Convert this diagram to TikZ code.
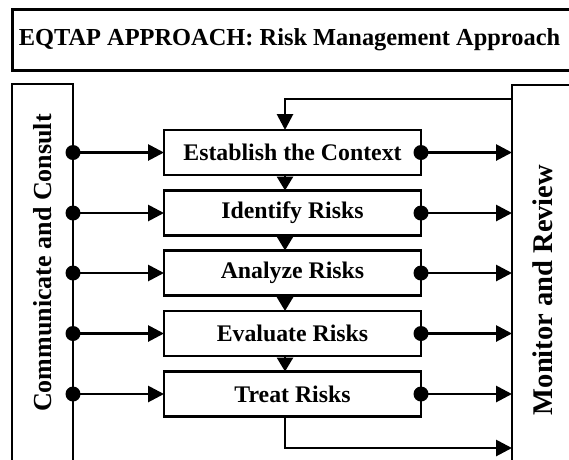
\documentclass[tikz,border=0pt]{standalone}
\usepackage{fontspec}
\setmainfont{Liberation Serif}
\usetikzlibrary{arrows.meta}

\begin{document}
\begin{tikzpicture}[line cap=butt,line join=miter,x=1pt,y=-1pt,
	>={Triangle[length=16pt,width=16pt]},
	stepbox/.style={draw,line width=2.4pt,outer sep=0pt,inner sep=0pt,minimum width=257pt,minimum height=45pt,font=\bfseries\fontsize{23.8}{28}\selectfont},
	sidebox/.style={draw,line width=2pt,outer sep=0pt,inner sep=0pt,anchor=north west,minimum height=400pt},
	sidelabel/.style={rotate=90,font=\bfseries\fontsize{26}{30}\selectfont},
	link/.style={line width=2.8pt},
	down/.style={line width=2.8pt,-{Triangle[length=14pt,width=16pt]}}]
			\clip (0,0) rectangle (569,459);
			\node [draw,line width=3pt,outer sep=0pt,anchor=north west,minimum width=580pt,minimum height=61pt] (head) at (12,9) {};
			\node [font=\bfseries\fontsize{24.4}{28}\selectfont] (title) at (289.5,40) {EQTAP APPROACH: Risk Management Approach};
			\node [sidebox,minimum width=61pt] (cc) at (12,84) {};
			\node [sidebox,minimum width=80pt] (mr) at (512,85) {};
			\node [sidelabel] (cclabel) at (43,263) {Communicate and Consult};
			\node [sidelabel,font=\bfseries\fontsize{28.5}{32}\selectfont] (mrlabel) at (543,290) {Monitor and Review};
			\node [stepbox] (ctx) at (292.5,152.5) {Establish the Context};
			\node [stepbox] (ide) at (292.5,213) {Identify Risks};
			\node [stepbox] (ana) at (292.5,273) {Analyze Risks};
			\node [stepbox] (eva) at (292.5,333.5) {Evaluate Risks};
			\node [stepbox] (trt) at (292.5,394) {Treat Risks};
			\coordinate (fb) at (285,99);
			\coordinate (out) at (285,448);
			\draw [down] (fb |- ctx.south) -- (fb |- ide.north);
			\draw [down] (fb |- ide.south) -- (fb |- ana.north);
			\draw [down] (fb |- ana.south) -- (fb |- eva.north);
			\draw [down] (fb |- eva.south) -- (fb |- trt.north);
			\draw [link,->] (mr.west |- fb) -- (fb) -- (fb |- ctx.north);
			\draw [link,->] (fb |- trt.south) -- (out) -- (mr.west |- out);
			\draw [link,->] (cc.east |- ctx) -- (ctx.west);
			\draw [link,->] (cc.east |- ide) -- (ide.west);
			\draw [link,->] (cc.east |- ana) -- (ana.west);
			\draw [link,->] (cc.east |- eva) -- (eva.west);
			\draw [link,->] (cc.east |- trt) -- (trt.west);
			\draw [link,->] (ctx.east) -- (mr.west |- ctx);
			\draw [link,->] (ide.east) -- (mr.west |- ide);
			\draw [link,->] (ana.east) -- (mr.west |- ana);
			\draw [link,->] (eva.east) -- (mr.west |- eva);
			\draw [link,->] (trt.east) -- (mr.west |- trt);
			\fill (cc.east |- ctx) circle (7.5pt);
			\fill (cc.east |- ide) circle (7.5pt);
			\fill (cc.east |- ana) circle (7.5pt);
			\fill (cc.east |- eva) circle (7.5pt);
			\fill (cc.east |- trt) circle (7.5pt);
			\fill (ctx.east) circle (7.5pt);
			\fill (ide.east) circle (7.5pt);
			\fill (ana.east) circle (7.5pt);
			\fill (eva.east) circle (7.5pt);
			\fill (trt.east) circle (7.5pt);
\end{tikzpicture}
\end{document}
